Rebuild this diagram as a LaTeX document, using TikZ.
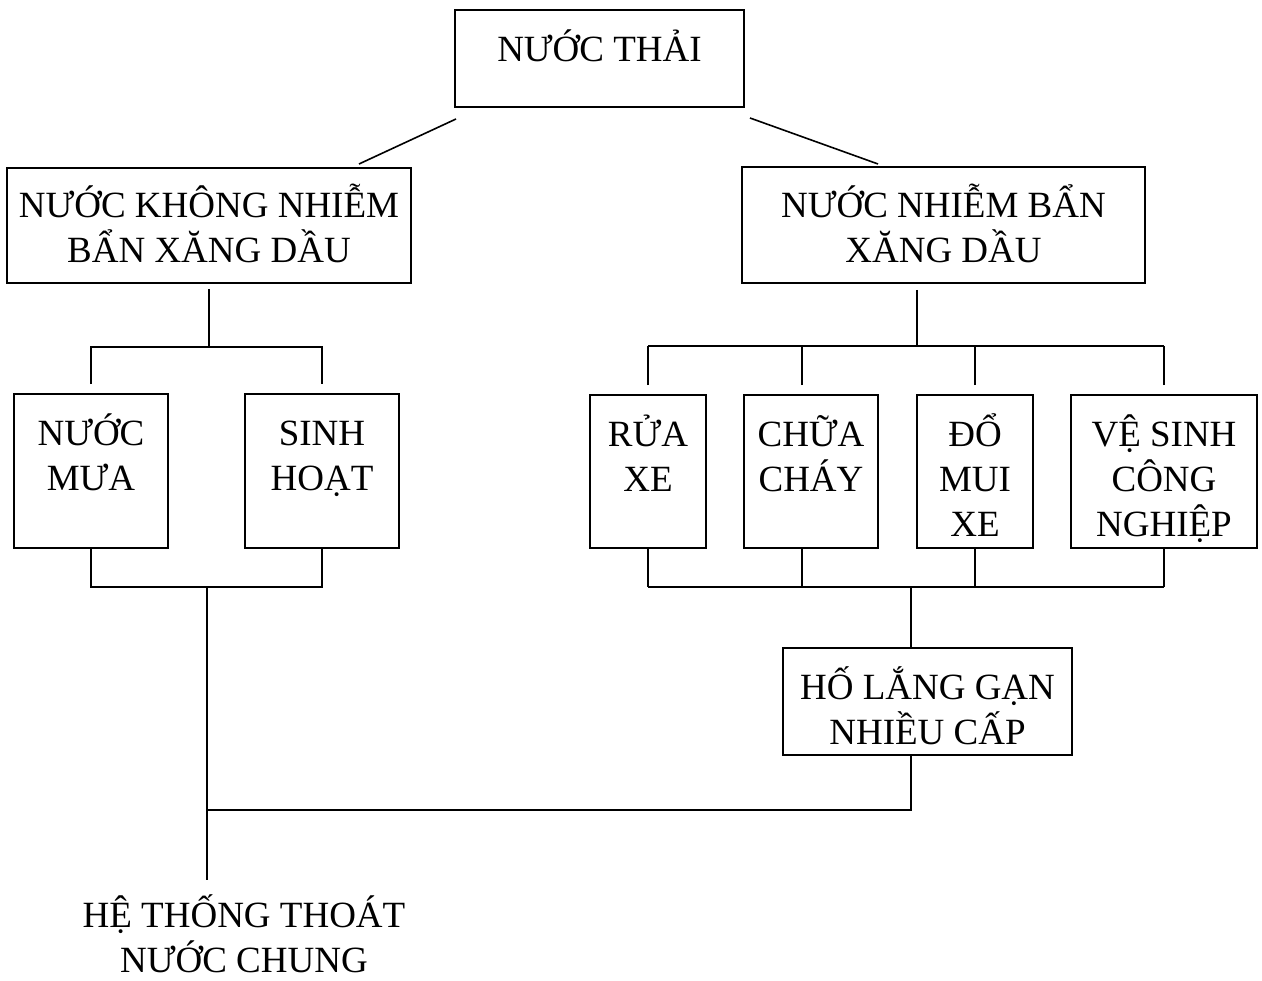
\documentclass[tikz,border=0pt]{standalone}
\usepackage{fontspec}
\setmainfont{Liberation Serif}
\usetikzlibrary{positioning}

\newcommand{\capstrut}{\rule{0pt}{36pt}}

\tikzset{
	hop/.style={draw, line width=1.8pt, inner sep=0pt},
	chu/.style={font=\fontsize{37}{45}\selectfont, align=center, inner sep=0pt, anchor=north},
	noi/.style={line width=1.6pt}
}

\begin{document}
\begin{tikzpicture}[x=1pt, y=-1pt]
	\useasboundingbox (0,0) rectangle (1262,981);

	% Top
		\node[hop, minimum width=289pt, minimum height=97pt] (thai) at (599.5,58.5) {};
		\node[chu, below=16pt of thai.north] (thai-t) {\capstrut NƯỚC THẢI};

		\node[hop, minimum width=404pt, minimum height=115pt] (sach) at (209,225.5) {};
		\node[chu, below=14pt of sach.north] (sach-t) {\capstrut NƯỚC KHÔNG NHIỄM\\BẨN XĂNG DẦU};

		\node[hop, minimum width=403pt, minimum height=116pt] (ban) at (943.5,225) {};
		\node[chu, below=15pt of ban.north] (ban-t) {\capstrut NƯỚC NHIỄM BẨN\\XĂNG DẦU};

		\coordinate (tl1) at (456,119);
		\coordinate (tl2) at (359,164);
		\coordinate (tr1) at (750,118);
		\coordinate (tr2) at (878,164);
		\draw[noi] (tl1) -- (tl2);
		\draw[noi] (tr1) -- (tr2);

	% Left branch
		\node[hop, minimum width=154pt, minimum height=154pt] (mua) at (91,471) {};
		\node[chu, below=16pt of mua.north] (mua-t) {\capstrut NƯỚC\\MƯA};

		\node[hop, minimum width=154pt, minimum height=154pt] (sinh) at (322,471) {};
		\node[chu, below=16pt of sinh.north] (sinh-t) {\capstrut SINH\\HOẠT};

		\coordinate (lbus) at (207,347);
		\draw[noi, shorten <=5pt] (sach.south) -- (sach.south |- lbus);
		\draw[noi, shorten <=9pt, shorten >=9pt] (mua.north) |- (lbus) -| (sinh.north);

		\coordinate (lbot) at (207,587);
		\coordinate (ra) at (207,880);
		\draw[noi] (mua.south) |- (lbot) -| (sinh.south);
		\draw[noi] (lbot) -- (ra);

	% Right branch
		\node[hop, minimum width=116pt, minimum height=153pt] (rua) at (648,471.5) {};
		\node[chu, below=16pt of rua.north] (rua-t) {\capstrut RỬA\\XE};

		\node[hop, minimum width=134pt, minimum height=153pt] (chua) at (811,471.5) {};
		\node[chu, below=16pt of chua.north] (chua-t) {\capstrut CHỮA\\CHÁY};

		\node[hop, minimum width=116pt, minimum height=153pt] (domui) at (975,471.5) {};
		\node[chu, below=16pt of domui.north] (domui-t) {\capstrut ĐỔ\\MUI\\XE};

		\node[hop, minimum width=186pt, minimum height=153pt] (vesinh) at (1164,471.5) {};
		\node[chu, below=16pt of vesinh.north] (vesinh-t) {\capstrut VỆ SINH\\CÔNG\\NGHIỆP};

		\coordinate (rtrunk) at (917,290);
		\coordinate (rbus) at (917,346);
		\draw[noi] (rtrunk) -- (rbus);
		\draw[noi] (rua.north |- rbus) -- (vesinh.north |- rbus);
		\foreach \b in {rua,domui,vesinh}
			\draw[noi, shorten <=9pt] (\b.north) -- (\b.north |- rbus);
		\draw[noi, shorten <=9pt] ([xshift=-9pt]chua.north) -- ([xshift=-9pt]chua.north |- rbus);

		\coordinate (rbot) at (911,587);
		\draw[noi] (rua.south |- rbot) -- (vesinh.south |- rbot);
		\foreach \b in {rua,domui,vesinh}
			\draw[noi] (\b.south) -- (\b.south |- rbot);
		\draw[noi] ([xshift=-9pt]chua.south) -- ([xshift=-9pt]chua.south |- rbot);

	% Settling pit
		\node[hop, minimum width=289pt, minimum height=107pt] (holang) at (927.5,701.5) {};
		\node[chu, below=16pt of holang.north] (holang-t) {\capstrut HỐ LẮNG GẠN\\NHIỀU CẤP};

		\coordinate (gop) at (911,810);
		\draw[noi] (rbot) -- (rbot |- holang.north);
		\draw[noi] (holang.south -| gop) -- (gop) -- (gop -| ra);

	% Outlet
		\node[chu] (hethong) at (244,891) {\capstrut HỆ THỐNG THOÁT\\NƯỚC CHUNG};
\end{tikzpicture}
\end{document}
